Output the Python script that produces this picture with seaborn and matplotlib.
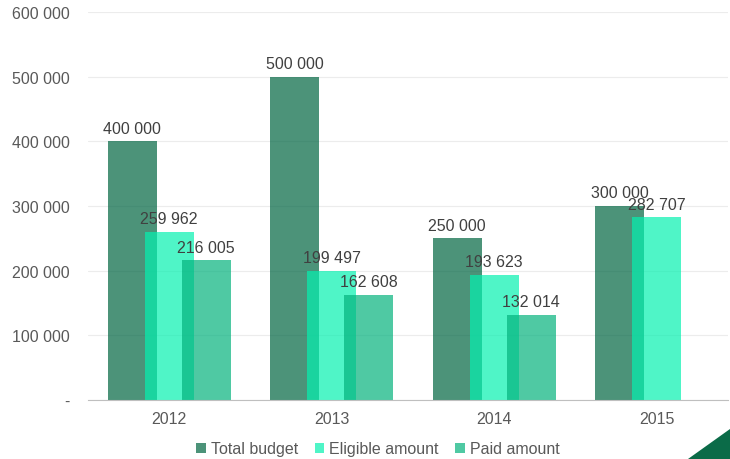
import numpy as np
import pandas as pd
import seaborn as sns
import matplotlib.pyplot as plt
from matplotlib.patches import Patch, Polygon

years = ["2012", "2013", "2014", "2015"]
total_budget = [400000, 500000, 250000, 300000]
eligible_amount = [259962, 199497, 193623, 282707]
paid_amount = [216005, 162608, 132014, np.nan]

series = ["Total budget", "Eligible amount", "Paid amount"]
colors = ["#006541", "#05f1b0", "#04b27d"]
offsets = [-0.228, 0.0, 0.228]

sns.set_style("white")
plt.rcParams["font.family"] = ["Liberation Sans", "DejaVu Sans"]

fig = plt.figure(figsize=(7.3, 4.6), dpi=100)
ax = fig.add_axes([88 / 730, 59 / 460, 640 / 730, 388 / 460])

pos = np.arange(len(years))
for name, vals, col, off in zip(series, [total_budget, eligible_amount, paid_amount], colors, offsets):
    df = pd.DataFrame({"x": pos + off, "y": vals}).dropna()
    sns.barplot(data=df, x="x", y="y", native_scale=True, width=0.302,
                color=col, alpha=0.7, saturation=1, errorbar=None,
                linewidth=0, edgecolor="none", ax=ax)

fmt = lambda v: f"{v:,.0f}".replace(",", " ")
for c in ax.containers:
    ax.bar_label(c, fmt=fmt, padding=4, fontsize=11.5, color="#404040")

ax.set_xlim(-0.5, 3.44)
ax.set_ylim(0, 600000)
ax.set_xticks(pos)
ax.set_xticklabels(years)
ax.set_yticks(range(0, 600001, 100000))
ax.set_yticklabels(["-" if v == 0 else fmt(v) for v in range(0, 600001, 100000)])
ax.tick_params(axis="both", length=0, labelsize=11.5, labelcolor="#595959")
ax.tick_params(axis="y", pad=13)
ax.tick_params(axis="x", pad=8)
ax.set_xlabel("")
ax.set_ylabel("")
ax.grid(axis="y", color="#ececec", linewidth=0.8)
ax.set_axisbelow(True)
for s in ["top", "right", "left"]:
    ax.spines[s].set_visible(False)
ax.spines["bottom"].set_color("#bfbfbf")

handles = [Patch(facecolor=c, alpha=0.7, edgecolor="none") for c in colors]
fig.legend(handles, series, loc="center", bbox_to_anchor=(378 / 730, 10 / 460),
           ncol=3, frameon=False, fontsize=11.5, labelcolor="#595959",
           handlelength=0.6, handleheight=0.6, handletextpad=0.3, columnspacing=1.05)

fig.patches.append(Polygon([(688 / 730, 0), (1, 30 / 460), (1, 0)], closed=True,
                           transform=fig.transFigure, facecolor="#0b6b48", edgecolor="none"))

fig.savefig("out.png", dpi=100)
